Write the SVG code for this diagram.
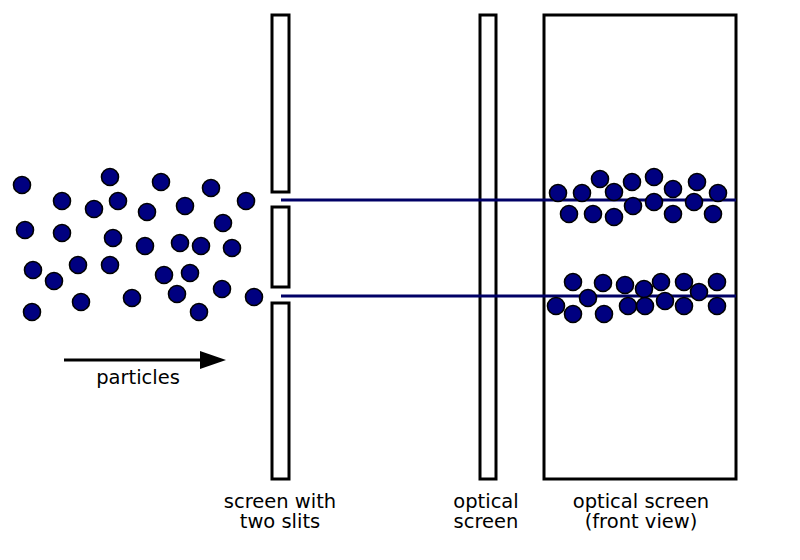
<svg xmlns="http://www.w3.org/2000/svg" width="800" height="560" viewBox="0 0 800 560">
<defs>
<style>
.scr{fill:#fff;stroke:#000;stroke-width:3}
.beam{stroke:#000066;stroke-width:3;fill:none}
.p{fill:#000080;stroke:#000;stroke-width:1.6}
.lbl{font-family:"DejaVu Sans",sans-serif;font-size:19.5px;fill:#000;text-anchor:middle}
</style>
<circle id="dot" r="8.5" class="p"/>
</defs>
<rect width="800" height="560" fill="#fff"/>
<g id="slit-screen">
<rect class="scr" x="272" y="15" width="17" height="177"/>
<rect class="scr" x="272" y="207" width="17" height="80"/>
<rect class="scr" x="272" y="303" width="17" height="176"/>
</g>
<g id="optical-screen">
<rect class="scr" x="480" y="15" width="16" height="464"/>
</g>
<g id="front-view">
<rect class="scr" x="544" y="15" width="192" height="464"/>
</g>
<g id="connectors">
<line class="beam" x1="281" y1="200" x2="736" y2="200"/>
<line class="beam" x1="281" y1="296" x2="736" y2="296"/>
<line x1="64" y1="360" x2="204" y2="360" stroke="#000" stroke-width="3"/>
<polygon points="200,351 226,360 200,369" fill="#000"/>
</g>
<g id="particles">
<use href="#dot" x="22" y="185"/><use href="#dot" x="62" y="201"/><use href="#dot" x="110" y="177"/>
<use href="#dot" x="94" y="209"/><use href="#dot" x="118" y="201"/><use href="#dot" x="161" y="182"/>
<use href="#dot" x="147" y="212"/><use href="#dot" x="185" y="206"/><use href="#dot" x="211" y="188"/>
<use href="#dot" x="246" y="201"/><use href="#dot" x="25" y="230"/><use href="#dot" x="62" y="233"/>
<use href="#dot" x="113" y="238"/><use href="#dot" x="145" y="246"/><use href="#dot" x="180" y="243"/>
<use href="#dot" x="201" y="246"/><use href="#dot" x="223" y="223"/><use href="#dot" x="232" y="248"/>
<use href="#dot" x="33" y="270"/><use href="#dot" x="54" y="281"/><use href="#dot" x="78" y="265"/>
<use href="#dot" x="110" y="265"/><use href="#dot" x="164" y="275"/><use href="#dot" x="190" y="273"/>
<use href="#dot" x="177" y="294"/><use href="#dot" x="222" y="289"/><use href="#dot" x="254" y="297"/>
<use href="#dot" x="32" y="312"/><use href="#dot" x="81" y="302"/><use href="#dot" x="132" y="298"/>
<use href="#dot" x="199" y="312"/>
</g>
<g id="hits">
<use href="#dot" x="558" y="193"/><use href="#dot" x="582" y="193"/><use href="#dot" x="600" y="179"/>
<use href="#dot" x="614" y="192"/><use href="#dot" x="632" y="182"/><use href="#dot" x="654" y="177"/>
<use href="#dot" x="673" y="189"/><use href="#dot" x="697" y="182"/><use href="#dot" x="718" y="193"/>
<use href="#dot" x="569" y="214"/><use href="#dot" x="593" y="214"/><use href="#dot" x="614" y="217"/>
<use href="#dot" x="633" y="206"/><use href="#dot" x="654" y="202"/><use href="#dot" x="673" y="214"/>
<use href="#dot" x="694" y="202"/><use href="#dot" x="713" y="214"/>
<use href="#dot" x="573" y="282"/><use href="#dot" x="603" y="283"/><use href="#dot" x="625" y="285"/>
<use href="#dot" x="644" y="289"/><use href="#dot" x="661" y="282"/><use href="#dot" x="684" y="282"/>
<use href="#dot" x="717" y="282"/><use href="#dot" x="556" y="306"/><use href="#dot" x="573" y="314"/>
<use href="#dot" x="588" y="298"/><use href="#dot" x="604" y="314"/><use href="#dot" x="628" y="306"/>
<use href="#dot" x="645" y="306"/><use href="#dot" x="665" y="301"/><use href="#dot" x="684" y="306"/>
<use href="#dot" x="699" y="292"/><use href="#dot" x="717" y="306"/>
</g>
<g id="labels">
<text class="lbl" x="280" y="508">screen with</text>
<text class="lbl" x="280" y="528">two slits</text>
<text class="lbl" x="486" y="508">optical</text>
<text class="lbl" x="486" y="528">screen</text>
<text class="lbl" x="641" y="508">optical screen</text>
<text class="lbl" x="641" y="528">(front view)</text>
<text class="lbl" x="138" y="384">particles</text>
</g>
</svg>
